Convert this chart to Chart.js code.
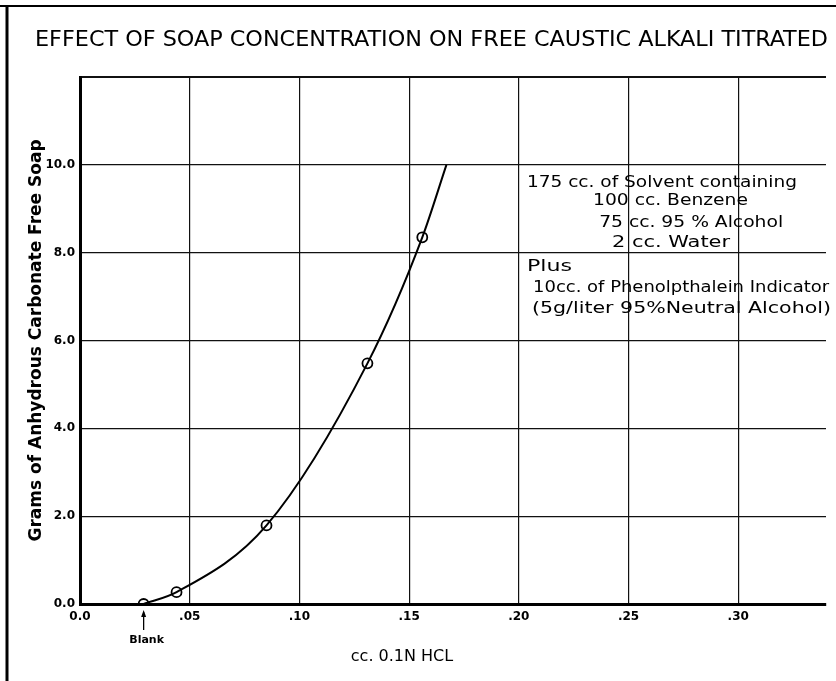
<!DOCTYPE html>
<html>
<head>
<meta charset="utf-8">
<script src="https://cdn.jsdelivr.net/npm/chart.js@4.4.1/dist/chart.umd.min.js"></script>
<style>
  body { margin: 0; background: #fff; }
  canvas { display: block; }
</style>
</head>
<body>
<canvas id="grafico" width="836" height="681"></canvas>
<script>
// Datos
const tituloGrafico = "EFFECT OF SOAP CONCENTRATION ON FREE CAUSTIC ALKALI TITRATED";
const tituloX = "cc. 0.1N HCL";
const tituloY = "Grams of Anhydrous Carbonate Free Soap";

const ticksX = [0, 0.05, 0.10, 0.15, 0.20, 0.25, 0.30];
const etiquetasX = ["0.0", ".05", ".10", ".15", ".20", ".25", ".30"];
const etiquetasY = ["0.0", "2.0", "4.0", "6.0", "8.0", "10.0"];

// puntos medidos (circulos)
const hclMedido = [0.029, 0.044, 0.085, 0.131, 0.156];
const jabonMedido = [0, 0.27, 1.79, 5.48, 8.35];

// curva dibujada a mano: pasa por los puntos y termina arriba en 10.0
const hclCurva = [0.029, 0.044, 0.085, 0.131, 0.156, 0.167];
const jabonCurva = [0, 0.27, 1.79, 5.48, 8.35, 10.0];

const notas = [
  "175 cc. of Solvent containing",
  "100 cc. Benzene",
  "75 cc. 95 % Alcohol",
  "2 cc. Water",
  "Plus",
  "10cc. of Phenolpthalein Indicator",
  "(5g/liter 95%Neutral Alcohol)"
];
const etiquetaBlanco = "Blank";

// Posición de las notas: [x en datos, y en datos, ancho en px]
const posNotas = [
  [0.2037, 9.59, 270],
  [0.2338, 9.18, 155],
  [0.2366, 8.68, 184],
  [0.2425, 8.23, 118],
  [0.2037, 7.68, 45],
  [0.2065, 7.20, 296],
  [0.2060, 6.73, 299]
];

// Plugin para el marco, titulo, notas y la flecha "Blank"
const extras = {
  id: "extras",
  beforeDraw(chart) {
    const ctx = chart.ctx;
    ctx.save();
    ctx.fillStyle = "#fff";
    ctx.fillRect(0, 0, chart.width, chart.height);
    ctx.strokeStyle = "#000";
    ctx.lineWidth = 2;
    ctx.beginPath();
    ctx.moveTo(0, 6);
    ctx.lineTo(chart.width, 6);
    ctx.stroke();
    ctx.lineWidth = 3;
    ctx.beginPath();
    ctx.moveTo(7, 6);
    ctx.lineTo(7, chart.height);
    ctx.stroke();
    ctx.restore();
  },
  afterDraw(chart) {
    const ctx = chart.ctx;
    const x = chart.scales.x;
    const y = chart.scales.y;
    ctx.save();
    ctx.fillStyle = "#000";
    ctx.strokeStyle = "#000";

    // escribe un texto estirado al ancho pedido
    const escribe = (t, px, py, ancho) => {
      const w = ctx.measureText(t).width;
      ctx.save();
      ctx.translate(px, py);
      ctx.scale(ancho / w, 1);
      ctx.fillText(t, 0, 0);
      ctx.restore();
    };

    // titulo
    ctx.textBaseline = "middle";
    ctx.textAlign = "left";
    ctx.font = "22px 'DejaVu Sans Condensed'";
    escribe(tituloGrafico, 35, 40, 793);

    // titulo eje x
    ctx.font = "16px 'DejaVu Sans'";
    ctx.textAlign = "center";
    ctx.fillText(tituloX, 402, 657);

    // Blank con flecha
    const bx = x.getPixelForValue(hclMedido[0]);
    ctx.lineWidth = 1.3;
    ctx.beginPath();
    ctx.moveTo(bx, 630);
    ctx.lineTo(bx, 612);
    ctx.stroke();
    ctx.beginPath();
    ctx.moveTo(bx - 2.5, 617);
    ctx.lineTo(bx, 610);
    ctx.lineTo(bx + 2.5, 617);
    ctx.closePath();
    ctx.fill();
    ctx.font = "bold 11px 'DejaVu Sans'";
    ctx.fillText(etiquetaBlanco, bx + 3, 640);

    // notas
    ctx.textAlign = "left";
    ctx.font = "16px 'DejaVu Sans'";
    notas.forEach((t, i) => {
      const p = posNotas[i];
      escribe(t, x.getPixelForValue(p[0]), y.getPixelForValue(p[1]), p[2]);
    });
    ctx.restore();
  }
};

const ctx = document.getElementById("grafico").getContext("2d");
const chart = new Chart(ctx, {
  type: "scatter",
  data: {
    datasets: [
      {
        type: "line",
        label: "curva",
        data: hclCurva.map((v, i) => ({ x: v, y: jabonCurva[i] })),
        borderColor: "#000",
        borderWidth: 2,
        pointRadius: 0,
        cubicInterpolationMode: "monotone",
        fill: false
      },
      {
        label: "medido",
        data: hclMedido.map((v, i) => ({ x: v, y: jabonMedido[i] })),
        pointRadius: 5,
        pointBorderWidth: 1.8,
        pointBorderColor: "#000",
        pointBackgroundColor: "rgba(0,0,0,0)"
      }
    ]
  },
  options: {
    responsive: false,
    animation: false,
    layout: { padding: { top: 77, right: 10, left: 0, bottom: 0 } },
    plugins: {
      legend: { display: false },
      tooltip: { enabled: false }
    },
    scales: {
      x: {
        type: "linear",
        min: 0,
        max: 0.34,
        afterBuildTicks: s => { s.ticks = ticksX.map(v => ({ value: v })); },
        afterFit: s => { s.height = 77; },
        ticks: {
          color: "#000",
          padding: 6,
          maxRotation: 0,
          font: { family: "'DejaVu Sans'", size: 12, weight: "bold" },
          callback: (v, i) => etiquetasX[i]
        },
        grid: { color: "#111", lineWidth: 1.2, drawTicks: false },
        border: { color: "#000", width: 3 }
      },
      y: {
        min: 0,
        max: 12,
        afterFit: s => { s.width = 80; },
        ticks: {
          stepSize: 2,
          color: "#000",
          padding: 5,
          font: { family: "'DejaVu Sans'", size: 12, weight: "bold" },
          callback: v => (v === 12 ? "" : etiquetasY[v / 2])
        },
        grid: {
          color: "#111",
          lineWidth: c => (c.tick && c.tick.value === 12 ? 2 : 1.2),
          drawTicks: false
        },
        border: { color: "#000", width: 3 },
        title: {
          display: true,
          text: tituloY,
          color: "#000",
          font: { family: "'DejaVu Sans'", size: 17, weight: "bold" },
          padding: { top: 26, bottom: 0 }
        }
      }
    }
  },
  plugins: [extras]
});
chart.render();
</script>
</body>
</html>
